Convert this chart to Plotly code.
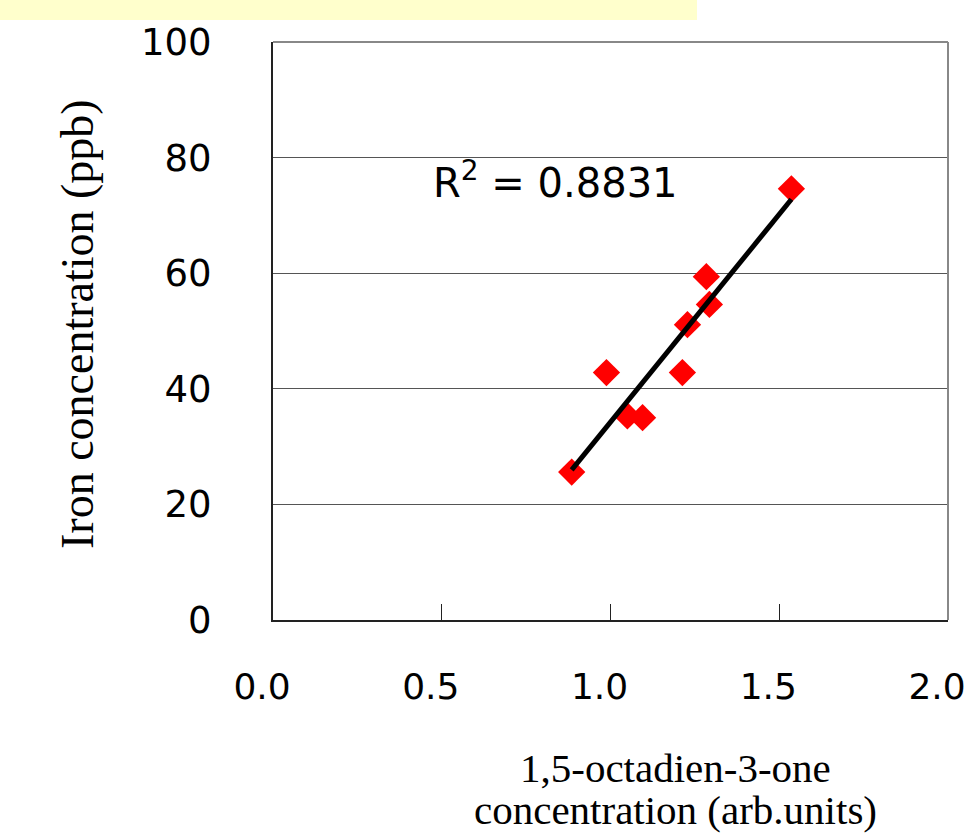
import numpy as np
import plotly.graph_objects as go

# Data
octadienone = [0.885, 0.988, 1.050, 1.095, 1.213, 1.228, 1.284, 1.293, 1.536]
iron_ppb = [25.6, 42.8, 35.3, 35.0, 42.8, 51.1, 59.4, 54.6, 74.6]
x_ticks = [0.0, 0.5, 1.0, 1.5, 2.0]
x_tick_labels = ["0.0", "0.5", "1.0", "1.5", "2.0"]
y_ticks = [0, 20, 40, 60, 80, 100]
r2_label = "R<sup>2</sup> = 0.8831"
x_title_lines = ["1,5-octadien-3-one", "concentration (arb.units)"]
y_title = "Iron concentration (ppb)"

# Linear trend line fitted to the data
slope, intercept = np.polyfit(octadienone, iron_ppb, 1)
trend_x = [min(octadienone), max(octadienone)]
trend_y = [slope * v + intercept for v in trend_x]

fig = go.Figure()
fig.add_trace(go.Scatter(
    x=octadienone, y=iron_ppb, mode="markers",
    marker=dict(symbol="diamond", size=21, color="#FF0000", line=dict(width=0)),
    showlegend=False, cliponaxis=False,
))
fig.add_trace(go.Scatter(
    x=trend_x, y=trend_y, mode="lines",
    line=dict(color="black", width=5),
    showlegend=False,
))

L, R, T, B = 273, 23, 42, 213
W, H = 971, 833
pw, ph = W - L - R, H - T - B


def px(xp):
    return (xp - L) / pw


def py(yp):
    return (H - B - yp) / ph


annotations = [
    dict(x=0.836, y=76.1, xref="x", yref="y", text=r2_label, showarrow=False,
         xanchor="center", yanchor="middle",
         font=dict(family="DejaVu Sans", size=40, color="black")),
    dict(x=px(77), y=py(324), xref="paper", yref="paper", text=y_title,
         showarrow=False, xanchor="center", yanchor="middle", textangle=-90,
         font=dict(family="Liberation Serif", size=46, color="black")),
]
for line_text, ypix in zip(x_title_lines, [768, 810]):
    annotations.append(dict(
        x=px(675), y=py(ypix), xref="paper", yref="paper", text=line_text,
        showarrow=False, xanchor="center", yanchor="middle",
        font=dict(family="Liberation Serif", size=41, color="black")))

fig.update_layout(
    width=W, height=H, autosize=False,
    margin=dict(l=L, r=R, t=T, b=B, pad=0, autoexpand=False),
    paper_bgcolor="white", plot_bgcolor="white",
    font=dict(family="DejaVu Sans", color="black"),
    xaxis=dict(
        range=[0, 2], tickvals=x_ticks, ticktext=x_tick_labels,
        showgrid=False, zeroline=False, automargin=False,
        showline=True, linecolor="#222", linewidth=2,
        ticks="inside", ticklen=16, tickcolor="#222", tickwidth=1,
        tickfont=dict(family="DejaVu Sans", size=36, color="black"),
        ticklabelstandoff=34, ticklabelshift=-11, ticklabeloverflow="allow",
    ),
    yaxis=dict(
        range=[0, 100], tickvals=y_ticks,
        showgrid=True, gridcolor="#555", gridwidth=1,
        zeroline=False, automargin=False,
        showline=True, linecolor="#222", linewidth=2,
        ticks="",
        tickfont=dict(family="DejaVu Sans", size=37, color="black"),
        ticklabelstandoff=52,
    ),
    shapes=[
        # yellow band at top left
        dict(type="rect", xref="paper", yref="paper",
             x0=px(0), x1=px(697), y0=py(20), y1=py(0),
             fillcolor="#FFFFCC", line=dict(width=0), layer="below"),
        # top and right frame lines
        dict(type="line", xref="paper", yref="paper", x0=0, x1=1, y0=1, y1=1,
             line=dict(color="#888", width=2)),
        dict(type="line", xref="paper", yref="paper", x0=1, x1=1, y0=0, y1=1,
             line=dict(color="#888", width=2)),
    ],
    annotations=annotations,
)

fig.write_html(
    "out.html",
    config={"responsive": False, "displayModeBar": False},
    post_script=(
        "document.documentElement.style.overflow='hidden';"
        "document.body.style.margin='0';document.body.style.overflow='hidden';"
    ),
)
